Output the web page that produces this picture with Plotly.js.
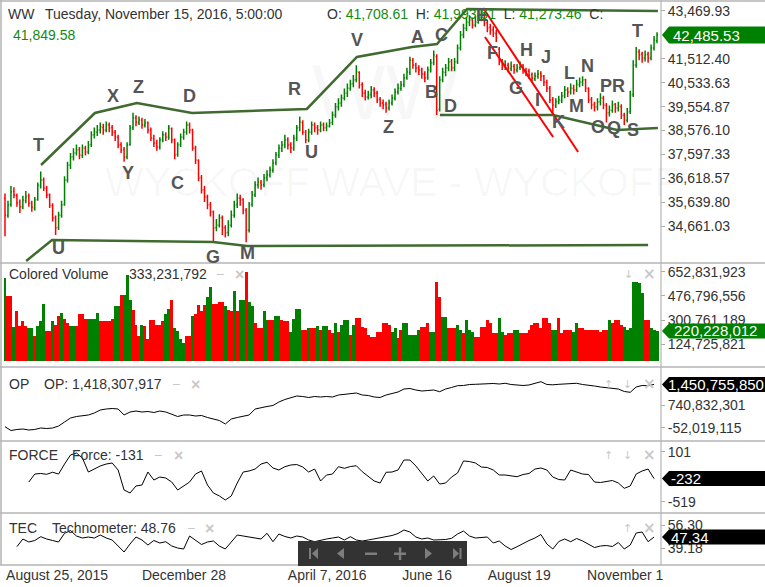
<!DOCTYPE html>
<html><head><meta charset="utf-8">
<script src="https://cdn.plot.ly/plotly-3.0.1.min.js"></script>
<style>html,body{margin:0;padding:0;background:#fff;}#chart{width:765px;height:587px;}</style>
</head><body><div id="chart"></div>
<script>
// ---------------- DATA ----------------
const open = [
35800,35100,35550,36100,35900,35650,35450,35700,35900,35600,
35400,35750,36300,36550,36200,35950,35500,35000,34600,35100,
35550,36550,37150,37500,37650,37800,37550,37850,37700,38000,
38400,38500,38600,38700,38600,38800,38700,38500,38300,38000,
37800,37500,38000,38700,39100,38900,39000,38800,38900,38600,
38250,38050,37900,38200,38400,38300,38650,38200,37600,38000,
38300,38500,38800,38600,37850,37350,36650,36150,35850,35550,
35250,34600,34700,35000,34600,34400,34700,35100,35550,35800,
35750,35300,34500,35550,35950,36350,36450,36350,36650,36750,
36950,37250,37550,37850,38000,38200,38000,37850,38250,38700,
38900,38500,38200,38500,38800,38700,38600,38800,38700,38750,
38900,39200,39550,39700,39900,40100,40300,40500,40650,40950,
40450,40100,39950,40050,40250,40100,39850,39700,39650,39500,
39700,39900,40150,40300,40450,40750,40950,41450,41250,41150,
41050,40900,40750,41050,41350,41600,39450,40650,40950,41150,
41400,41150,41400,41950,42500,42750,43000,43100,42900,43000,
43200,43300,43000,42800,42700,42550,41900,41400,41200,41250,
41100,41200,41050,41150,41200,41050,41000,40850,40700,40800,
40900,40800,40550,40300,39850,39600,39750,39800,40000,40250,
40150,40300,40250,40450,40550,40650,40300,39850,39650,39550,
39750,39900,39600,39300,39400,39650,39500,39550,39200,39000,
39350,40050,41250,41800,41700,41550,41700,41550,41950,42250];
const high = [
36000,35700,36300,36250,36000,35750,35900,36100,36000,35700,
35850,36450,36900,36650,36300,36000,35600,35100,35250,35700,
36700,37300,37650,37850,38000,37900,38000,37950,38150,38550,
38700,38800,38900,38850,38950,38900,38800,38600,38400,38100,
37900,38100,38800,39300,39200,39150,39100,39050,38950,38700,
38400,38200,38300,38550,38500,38800,38700,38250,38100,38450,
38650,38950,38900,38650,37950,37400,36750,36300,35950,35650,
35300,34950,35150,35100,34700,34900,35300,35700,36000,35950,
35800,35400,35650,36100,36500,36650,36550,36800,36950,37100,
37400,37700,38000,38150,38400,38300,38100,38400,38800,39150,
39000,38600,38650,38950,38900,38800,38950,38900,38900,39050,
39350,39700,39900,40050,40300,40500,40650,40850,41250,41000,
40550,40250,40200,40400,40350,40200,39950,39850,39750,39850,
40050,40300,40500,40600,40900,41150,41600,41550,41350,41250,
41150,41000,41200,41500,41850,41700,40800,41150,41300,41550,
41500,41550,42100,42650,42950,43200,43300,43200,43250,43400,
43590,43400,43100,42950,42850,42700,42000,41500,41450,41350,
41400,41300,41300,41400,41300,41150,41100,40950,40950,41050,
41000,40850,40650,40400,39950,39900,40000,40150,40400,40350,
40500,40450,40650,40750,40800,40700,40350,39950,39750,39900,
40100,40000,39700,39600,39800,39700,39750,39650,39300,39500,
40200,41450,42000,41900,41800,41850,41800,42100,42450,42600];
const low = [
34250,35000,35450,35800,35450,35200,35350,35600,35450,35250,
35300,35700,36200,36100,35800,35400,34850,34300,34500,35000,
35500,36450,37000,37350,37550,37400,37450,37550,37600,37900,
38250,38350,38450,38400,38500,38500,38350,38150,37850,37650,
37300,37400,37950,38600,38750,38800,38650,38700,38450,38150,
37900,37750,37800,38100,38150,38200,38050,37400,37500,37900,
38200,38400,38450,37750,37200,36500,36000,35650,35350,35050,
34000,34450,34600,34300,34200,34250,34600,35000,35400,35500,
35150,34000,34400,35450,35850,36200,36150,36250,36500,36650,
36850,37150,37450,37700,37850,37800,37650,37750,38150,38550,
38400,38050,38100,38400,38500,38400,38500,38550,38550,38700,
38800,39100,39400,39550,39800,39950,40200,40350,40550,40300,
39950,39800,39850,39900,39950,39700,39550,39450,39300,39400,
39600,39800,40050,40200,40350,40650,40850,41100,40950,40850,
40700,40550,40650,40950,41250,39210,39350,40550,40800,41000,
41000,41000,41300,41850,42350,42650,42850,42750,42800,42950,
43050,42850,42600,42500,42400,42200,41250,41050,41050,40950,
41000,40900,40950,41050,40900,40800,40700,40550,40600,40700,
40600,40400,40150,39700,39210,39500,39650,39700,39900,39950,
40050,40050,40150,40350,40400,40150,39700,39450,39350,39400,
39600,39450,38900,39150,39300,39300,39350,39050,38800,38900,
39250,39950,41150,41450,41350,41400,41350,41450,41850,42150];
const close = [
35120,35530,36060,35940,35610,35440,35730,35850,35610,35440,
35730,36340,36550,36220,35940,35530,34990,34580,35120,35530,
36550,37160,37490,37660,37780,37570,37860,37700,37980,38390,
38510,38600,38720,38600,38800,38680,38510,38310,37980,37780,
37490,37980,38680,39090,38920,39010,38800,38880,38600,38270,
38060,37900,38190,38390,38310,38680,38190,37570,37980,38310,
38510,38800,38600,37860,37370,36630,36140,35850,35530,35240,
34580,34710,34990,34580,34380,34710,35120,35530,35810,35730,
35320,34500,35530,35940,36340,36470,36340,36630,36750,36960,
37250,37570,37860,37980,38190,37980,37860,38270,38680,38920,
38510,38190,38510,38800,38680,38600,38800,38680,38760,38880,
39210,39540,39700,39910,40110,40320,40480,40640,40970,40440,
40110,39950,40030,40230,40110,39830,39700,39620,39500,39700,
39910,40150,40320,40440,40730,40970,41460,41260,41140,41050,
40890,40730,41050,41340,41670,39400,40640,40970,41140,41380,
41140,41380,41950,42490,42770,43020,43100,42900,43020,43180,
43310,43020,42770,42690,42570,42360,41380,41220,41260,41140,
41220,41050,41140,41220,41050,40970,40850,40730,40810,40890,
40810,40560,40320,39830,39620,39740,39830,39990,40230,40150,
40320,40230,40480,40560,40640,40320,39830,39620,39540,39740,
39910,39620,39290,39420,39620,39500,39580,39210,39010,39330,
40030,41260,41790,41670,41550,41670,41550,41950,42280,42485.53];
// volume, millions of shares
const volumeM = [
606,480,480,250,370,255,290,255,245,245,
180,255,290,420,220,220,290,265,330,350,
310,280,255,255,255,345,345,310,310,310,
310,350,290,290,290,290,310,400,400,485,
485,630,445,375,265,180,265,255,165,300,
300,265,265,290,345,385,445,245,220,160,
130,180,180,330,345,410,370,410,470,545,
420,420,430,430,400,375,370,515,370,445,
445,655,430,400,280,245,245,370,300,300,
300,330,330,300,290,290,210,310,385,385,
230,230,245,245,245,255,230,255,255,230,
203,281,215,264,300,300,191,264,313,313,
252,240,191,178,178,215,215,281,281,264,
215,240,166,227,276,276,191,191,191,227,
252,252,281,215,215,582,472,325,325,240,
240,240,264,227,203,300,227,215,178,178,
252,252,300,276,203,203,313,215,191,203,
203,227,227,203,203,203,227,264,276,276,
240,313,313,281,227,227,313,203,227,227,
227,215,276,240,240,227,227,227,227,227,
215,227,227,300,281,300,300,264,252,227,
240,582,582,570,496,300,300,240,227,220.228012];
// 1 = up (green) volume bar, 0 = down (red)
const volumeUp = [
1,0,0,1,0,0,0,0,1,1, 0,1,1,1,0,0,1,0,0,1, 0,0,1,1,0,0,0,0,1,1,
1,1,0,0,0,0,0,1,1,0, 1,1,1,0,0,0,1,0,0,0, 0,0,0,0,1,1,0,1,1,1,
1,0,0,1,0,0,0,0,1,1, 0,0,0,0,1,0,0,1,0,1, 1,0,1,1,0,0,0,1,1,0,
0,1,1,0,0,0,1,1,1,1, 0,0,1,0,0,1,0,1,1,0, 0,1,0,1,1,1,0,1,0,0,
0,0,0,0,0,0,0,0,0,0, 1,1,0,0,1,1,1,1,1,1, 0,0,0,1,1,0,0,1,1,0,
0,0,1,1,0,1,1,1,0,0, 0,0,0,0,0,0,1,1,0,0, 0,1,1,0,0,0,0,0,0,0,
0,0,0,0,1,1,0,0,0,0, 0,1,1,0,0,0,0,0,0,0, 0,0,0,1,0,0,0,0,1,1,
1,1,1,1,1,0,0,1,1,1];
// OP indicator (millions), every second bar from bar 0
const opM = [
-8,-139,-104,-87,-122,-104,-53,-70,-53,16,
154,292,344,361,396,465,568,603,620,603,
396,499,534,499,517,482,534,499,430,344,
396,396,361,379,310,258,206,85,258,310,
361,396,603,655,689,724,844,931,982,1051,
1034,1000,1034,1017,1034,1017,1086,1103,1138,1155,
1086,1069,1017,1000,1086,1138,1189,1293,1310,1258,
1224,1241,1258,1200,1293,1345,1407,1414,1448,1455,
1472,1490,1483,1465,1490,1448,1431,1414,1431,1483,
1545,1448,1438,1455,1465,1483,1490,1448,1431,1396,
1362,1338,1310,1293,1207,1179,1362,1414,1407,1450.75585];
// FORCE, every second bar from bar 8
const force = [
-275,-176,-169,-179,-154,-176,-52,60,85,23,
-151,-114,-76,-52,-39,-126,-374,-411,-324,-312,
-151,-250,-213,-225,-275,-374,-324,-275,-176,-138,
-312,-411,-448,-498,-448,-287,-151,-138,-114,-52,
-30,-101,-126,-85,-64,-58,-89,-151,-114,-262,
-188,-176,-85,-105,-83,-73,-147,-200,-262,-287,
-154,-151,-126,-2,-2,-76,-163,-262,-200,-300,
-287,-213,-163,-14,-21,-39,-89,-95,-126,-188,
-188,-200,-209,-182,-169,-114,-101,-126,-213,-244,
-250,-126,-151,-176,-182,-275,-281,-271,-256,-287,
-353,-324,-176,-138,-114,-232];
// Technometer, every second bar from bar 4
const tec = [
40.16,45.88,43.65,44.77,47.60,45.88,44.77,43.65,50.12,52.21,
48.12,46.63,47.37,46.63,48.86,46.63,45.14,41.05,36.21,42.16,
47.37,45.14,41.42,44.77,42.91,43.88,40.68,39.19,38.44,48.12,
44.77,41.79,43.65,44.40,40.68,38.44,43.65,48.86,48.12,47.37,
47.00,45.88,50.12,43.88,49.60,47.74,46.63,48.12,47.37,45.14,
43.88,45.14,45.88,46.63,47.37,45.14,47.60,45.14,44.40,45.14,
45.88,46.63,47.60,48.49,49.98,52.58,51.09,47.37,45.88,46.63,
45.14,45.14,45.51,46.40,49.60,51.84,48.12,46.63,47.00,47.37,
42.91,44.40,40.68,38.07,40.16,42.68,44.77,46.63,49.23,42.16,
38.44,44.02,45.88,43.88,46.26,44.40,42.16,39.56,40.68,41.05,
40.30,43.28,38.44,41.42,50.35,51.09,43.88,47.34];
const priceTicks = [34661.03,35639.80,36618.57,37597.33,38576.10,39554.87,40533.63,41512.40,43469.93];
const volTicks = [124725821,300761189,476796556,652831923];
const opTicks = [-52019115,740832301];
const forceTicks = [-519,101];
const tecTicks = [39.18,56.30];
const xTickPos = [17.5,60.1,108.2,141.8,172.7,208.3];
const xTickText = ['August 25, 2015','December 28','April 7, 2016','June 16','August 19','November 1'];

// ---------------- LAYOUT HELPERS ----------------
const FONT = 'Liberation Sans, Arial, sans-serif';
const W=765,H=587,ML=2,MR=105,MT=2,MB=22, PW=W-ML-MR, PH=H-MT-MB;
const px = x => (x-ML)/PW, py = y => (MT+PH-y)/PH;
const panes = {
  price:{top:2,bot:263,range:[33151,43838]},
  vol:{top:263,bot:367,range:[-44e6,718.8e6]},
  op:{top:367,bot:441,range:[-501e6,2052e6]},
  force:{top:441,bot:513,range:[-659,233.7]},
  tec:{top:513,bot:565,range:[26.54,65.23]}
};
const valPx = (p,v) => p.bot - (v-p.range[0])/(p.range[1]-p.range[0])*(p.bot-p.top);
const GREEN='#008000', RED='#ff0000', TXTGREEN='#138a13';

const idx = close.map((_,i)=>i);
const opX = opM.map((_,k)=>2*k);
const forceX = force.map((_,k)=>8+2*k);
const tecX = tec.map((_,k)=>4+2*k);
const fmt2 = v => v.toLocaleString('en-US',{minimumFractionDigits:2,maximumFractionDigits:2});
const fmt0 = v => Math.round(v).toLocaleString('en-US');

const traces = [
 {type:'ohlc', x:idx, open, high, low, close, yaxis:'y', hoverinfo:'skip', tickwidth:0.35,
  increasing:{line:{color:GREEN,width:1.5}}, decreasing:{line:{color:RED,width:1.5}}},
 {type:'bar', x:idx, y:volumeM.map(v=>v*1e6), yaxis:'y2', hoverinfo:'skip',
  marker:{color:volumeUp.map(u=>u?GREEN:RED), line:{width:0}}},
 {type:'scatter', mode:'lines', x:opX, y:opM.map(v=>v*1e6), yaxis:'y3', line:{color:'#000',width:1}, hoverinfo:'skip'},
 {type:'scatter', mode:'lines', x:forceX, y:force, yaxis:'y4', line:{color:'#000',width:1}, hoverinfo:'skip'},
 {type:'scatter', mode:'lines', x:tecX, y:tec, yaxis:'y5', line:{color:'#000',width:1}, hoverinfo:'skip'}
];

function yax(p, ticks, fmt){
  return {domain:[py(p.bot),py(p.top)], range:p.range, side:'right', anchor:'x', showgrid:false, zeroline:false,
    showline:false, ticks:'outside', ticklen:4, tickcolor:'#aaa', tickvals:ticks, ticktext:ticks.map(fmt),
    tickfont:{family:FONT,size:14,color:'#333'}, fixedrange:true};
}

const shapes = [], annotations = [];
const A = (x,y,text,size,color,extra) => Object.assign({xref:'paper',yref:'paper',x:px(x),y:py(y),xanchor:'left',yanchor:'middle',
  text, showarrow:false, font:{family:FONT,size,color}}, extra||{});
const L = (x0,y0,x1,y1,color,w) => shapes.push({type:'line',xref:'paper',yref:'paper',x0:px(x0),y0:py(y0),x1:px(x1),y1:py(y1),line:{color,width:w},layer:'above'});
const poly = (pts,fill) => shapes.push({type:'path',xref:'paper',yref:'paper',layer:'above',line:{width:0},fillcolor:fill,
  path:'M'+pts.map(p=>px(p[0])+','+py(p[1])).join('L')+'Z'});

// frame & separators
L(0,1,765,1,'#b5b5b5',1.5); L(1,0,1,565,'#b5b5b5',1.5);
[263,367,441,513,565].forEach(y=>L(0,y,765,y,'#b5b5b5',1.5));
L(661,0,661,565,'#b5b5b5',1.2);

// trend lines (data coordinates: bar index, price)
const tl = (pts,color,w) => shapes.push({type:'path',xref:'x',yref:'y',layer:'above',line:{color,width:w},
  path:'M'+pts.map(p=>p[0]+','+p[1]).join('L')});
const TLG = '#3f6b30';
tl([[12.1,37163],[30.2,39293],[44.3,39702],[62.8,39293],[101.4,39457],[118.2,41586],[136.7,41996],[145.1,42118],[155.2,43552],[219.3,43470]],TLG,2.5);
tl([[7.1,33232],[15.8,34092],[69.9,34010],[81.3,33846],[216,33887]],TLG,2.5);
tl([[146.1,39211],[184.1,39211],[205.6,38597],[219.3,38678]],TLG,2.5);
tl([[160.6,43592],[192.5,37696]],RED,2);
tl([[161.2,42405],[184.1,38310]],RED,2);

// watermarks
annotations.push({xref:'x',yref:'y',x:128,y:40150,text:'WW',showarrow:false,font:{family:FONT,size:78,color:'rgba(0,0,0,0.03)'}});
annotations.push({xref:'paper',yref:'paper',x:px(103),y:py(182),xanchor:'left',yanchor:'middle',text:'WYCKOFF WAVE - WYCKOFF',showarrow:false,
  font:{family:FONT,size:41,color:'rgba(0,0,0,0.03)'}});

// wave letters
const letters = [['T',11.4,37982],['X',36.3,39989],['Z',44.7,40358],['D',61.8,39989],['R',97.1,40276],['Y',41.3,36836],['C',57.8,36426],
 ['U',17.8,33765],['U',103.1,37696],['G',69.9,33396],['M',81.6,33560],['V',118.2,42282],['Z',128.7,38719],['A',138.7,42405],['C',146.5,42487],
 ['B',143.4,40153],['D',149.5,39579],['E',160.2,43306],['F',163.6,41750],['H',175.3,41873],['J',181.7,41586],['G',171.6,40317],['I',179,39825],
 ['L',189.5,40931],['N',195.5,41217],['K',185.8,38924],['M',191.8,39579],['P',201.9,40398],['R',206.2,40398],['O',199.2,38719],['Q',204.6,38679],
 ['S',210.9,38597],['T',212.6,42651]];
letters.forEach(l=>annotations.push({xref:'x',yref:'y',x:l[1],y:l[2],text:'<b>'+l[0]+'</b>',showarrow:false,
  font:{family:FONT,size:18,color:'#555'}}));

// headers
annotations.push(A(6,14,'WW',14,'#333'));
annotations.push(A(43,14,'Tuesday, November 15, 2016, 5:00:00',14,'#333'));
annotations.push(A(11,35,'41,849.58',14,TXTGREEN));
const g = s => '<span style="color:'+TXTGREEN+'">'+s+'</span>';
annotations.push(A(325,14,'O: '+g('41,708.61')+'  H: '+g('41,993.61')+'  L: '+g('41,273.46')+'  C:',14,'#333'));
const ICON='#c8c8c8';
const paneHead = (y, name, label, xLabel, xMinus, xClose, rightIcons) => {
  annotations.push(A(7,y,name,14,'#333'));
  annotations.push(A(xLabel,y,label,14,'#333'));
  annotations.push(A(xMinus,y,'−',14,ICON));
  annotations.push(A(xClose,y,'<b>×</b>',16,ICON));
  rightIcons.forEach(r=>annotations.push(A(r[0],y,r[1],12,ICON,{font:{family:'DejaVu Sans',size:r[1]==='<b>×</b>'?15:11,color:ICON}})));
};
paneHead(274,'Colored Volume','333,231,792',127,214,233,[[622,'↓'],[641,'<b>×</b>']]);
paneHead(384,'OP','OP: 1,418,307,917',42,170,189,[[602,'↑'],[621,'↓'],[641,'<b>×</b>']]);
paneHead(455,'FORCE','Force: -131',70,152,172,[[602,'↑'],[621,'↓'],[641,'<b>×</b>']]);
paneHead(528,'TEC','Technometer: 48.76',50,185,203,[[621,'↑'],[641,'<b>×</b>']]);

// current value boxes
const valBox = (yc,h,fill,text,tx) => {
  poly([[662,yc],[669,yc-h/2],[765,yc-h/2],[765,yc+h/2],[669,yc+h/2]],fill);
  annotations.push(A(tx,yc,text,15,'#fff'));
};
valBox(valPx(panes.price,close[close.length-1]),17,GREEN,fmt2(close[close.length-1]),671);
valBox(valPx(panes.vol,volumeM[volumeM.length-1]*1e6),15,GREEN,fmt0(volumeM[volumeM.length-1]*1e6),672);
valBox(valPx(panes.op,opM[opM.length-1]*1e6),15,'#000',fmt0(opM[opM.length-1]*1e6),666);
valBox(valPx(panes.force,force[force.length-1]),15,'#000',fmt0(force[force.length-1]),669);
valBox(valPx(panes.tec,tec[tec.length-1]),15,'#000',fmt2(tec[tec.length-1]),669);

// navigation box
poly([[298,541],[467,541],[467,566],[298,566]],'#333');
const NI='#7d7d7d';
poly([[309,548],[311,548],[311,559],[309,559]],NI);
poly([[312,553.5],[318,548],[318,559]],NI);
poly([[337,553.5],[344,548],[344,559]],NI);
poly([[365,552.5],[377,552.5],[377,555],[365,555]],NI);
poly([[394,552.5],[406,552.5],[406,555],[394,555]],NI);
poly([[398.8,547.5],[401.3,547.5],[401.3,560],[398.8,560]],NI);
poly([[432,553.5],[425,548],[425,559]],NI);
poly([[459,553.5],[453,548],[453,559]],NI);
poly([[459.5,548],[461.5,548],[461.5,559],[459.5,559]],NI);

const layout = {
  width:W, height:H, margin:{l:ML,r:MR,t:MT,b:MB,pad:0},
  paper_bgcolor:'#fff', plot_bgcolor:'#fff', showlegend:false, hovermode:false, bargap:0,
  font:{family:FONT,color:'#333'},
  xaxis:{range:[-1.008,220.0], anchor:'y5', showgrid:false, zeroline:false, showline:false, ticks:'',
    tickvals:xTickPos, ticktext:xTickText, tickfont:{family:FONT,size:14,color:'#333'},
    rangeslider:{visible:false}, fixedrange:true},
  yaxis: yax(panes.price, priceTicks, fmt2),
  yaxis2: yax(panes.vol, volTicks, fmt0),
  yaxis3: yax(panes.op, opTicks, fmt0),
  yaxis4: yax(panes.force, forceTicks, fmt0),
  yaxis5: yax(panes.tec, tecTicks, fmt2),
  shapes, annotations
};
Plotly.newPlot('chart', traces, layout, {displayModeBar:false, staticPlot:true});
</script></body></html>
